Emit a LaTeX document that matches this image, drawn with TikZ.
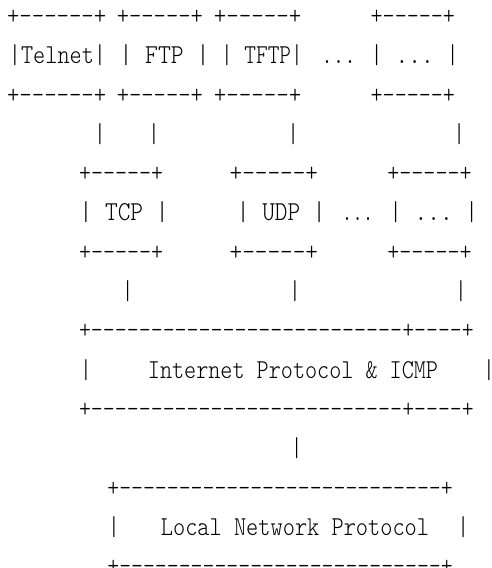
\documentclass[tikz,border=0pt]{standalone}
\usepackage{fontspec}
\setmonofont[FakeStretch=0.85]{lmmonolt10-regular.otf}
\tikzset{
  asc/.style={font=\ttfamily\fontsize{27.3}{30}\selectfont, inner sep=0pt, outer sep=0pt,
    text=black, transform shape, anchor=base west}
}
\def\adv{12.18}
% multi-character fragment: name, first-char centre x, last-char centre x, line, chars, text
\newcommand\af[6]{%
  \pgfmathsetmacro\fragscale{(#3-#2)/((#5-1)*\adv)}%
  \pgfmathsetmacro\fragx{#2-\adv*\fragscale/2}%
  \pgfmathsetmacro\fragy{568-(24.5+(#4-1)*39.3)}%
  \node[shift={(\fragx,\fragy)}, xscale=\fragscale, asc] (#1) at (0,0) {#6};%
}
% single character: name, centre x, line, text
\newcommand\ao[4]{%
  \pgfmathsetmacro\fragx{#2-\adv/2}%
  \pgfmathsetmacro\fragy{568-(24.5+(#3-1)*39.3)}%
  \node[shift={(\fragx,\fragy)}, asc] (#1) at (0,0) {#4};%
}
\begin{document}
\begin{tikzpicture}[x=1pt,y=1pt]
\useasboundingbox (0,0) rectangle (491,568);
% line 1
\af{l1a}{13.3}{100}{1}{8}{+------+}
\af{l1b}{123}{196.7}{1}{7}{+-----+}
\af{l1c}{220}{295}{1}{7}{+-----+}
\af{l1d}{376.7}{449}{1}{7}{+-----+}
% line 2
\af{l2a}{15}{100}{2}{8}{|Telnet|}
\af{l2b}{126}{203}{2}{7}{| FTP |}
\af{l2c}{227}{297}{2}{7}{| TFTP|}
\af{l2d}{327}{350}{2}{3}{...}
\af{l2e}{376.7}{452.7}{2}{7}{| ... |}
% line 3
\af{l3a}{13.3}{100}{3}{8}{+------+}
\af{l3b}{123}{196.7}{3}{7}{+-----+}
\af{l3c}{220}{295}{3}{7}{+-----+}
\af{l3d}{376.7}{449}{3}{7}{+-----+}
% line 4
\ao{l4a}{100}{4}{|}
\ao{l4b}{154}{4}{|}
\ao{l4c}{293.3}{4}{|}
\ao{l4d}{459.3}{4}{|}
% line 5
\af{l5a}{85}{157}{5}{7}{+-----+}
\af{l5b}{236}{311.7}{5}{7}{+-----+}
\af{l5c}{393.3}{465.7}{5}{7}{+-----+}
% line 6
\af{l6a}{86}{162.3}{6}{7}{| TCP |}
\af{l6b}{243.3}{319.3}{6}{7}{| UDP |}
\af{l6c}{347}{368}{6}{3}{...}
\af{l6d}{395.7}{471.7}{6}{7}{| ... |}
% line 7
\af{l7a}{85}{157}{7}{7}{+-----+}
\af{l7b}{236}{311.7}{7}{7}{+-----+}
\af{l7c}{393.3}{465.7}{7}{7}{+-----+}
% line 8
\ao{l8a}{127.7}{8}{|}
\ao{l8b}{295}{8}{|}
\ao{l8c}{461}{8}{|}
% line 9
\af{l9a}{85}{396}{9}{27}{+--------------------------}
\af{l9b}{408.3}{467.7}{9}{6}{+----+}
% line 10
\ao{l10a}{86}{10}{|}
\af{l10b}{154}{432}{10}{24}{Internet Protocol \& ICMP}
\ao{l10c}{489}{10}{|}
% line 11
\af{l11a}{85}{396}{11}{27}{+--------------------------}
\af{l11b}{408.3}{467.7}{11}{6}{+----+}
% line 12
\ao{l12a}{296.7}{12}{|}
% line 13
\af{l13a}{113.3}{446.7}{13}{29}{+---------------------------+}
% line 14
\ao{l14a}{114}{14}{|}
\af{l14b}{167}{423}{14}{22}{Local Network Protocol}
\ao{l14c}{463.3}{14}{|}
% line 15
\af{l15a}{113.3}{446.7}{15}{29}{+---------------------------+}
\end{tikzpicture}
\end{document}
